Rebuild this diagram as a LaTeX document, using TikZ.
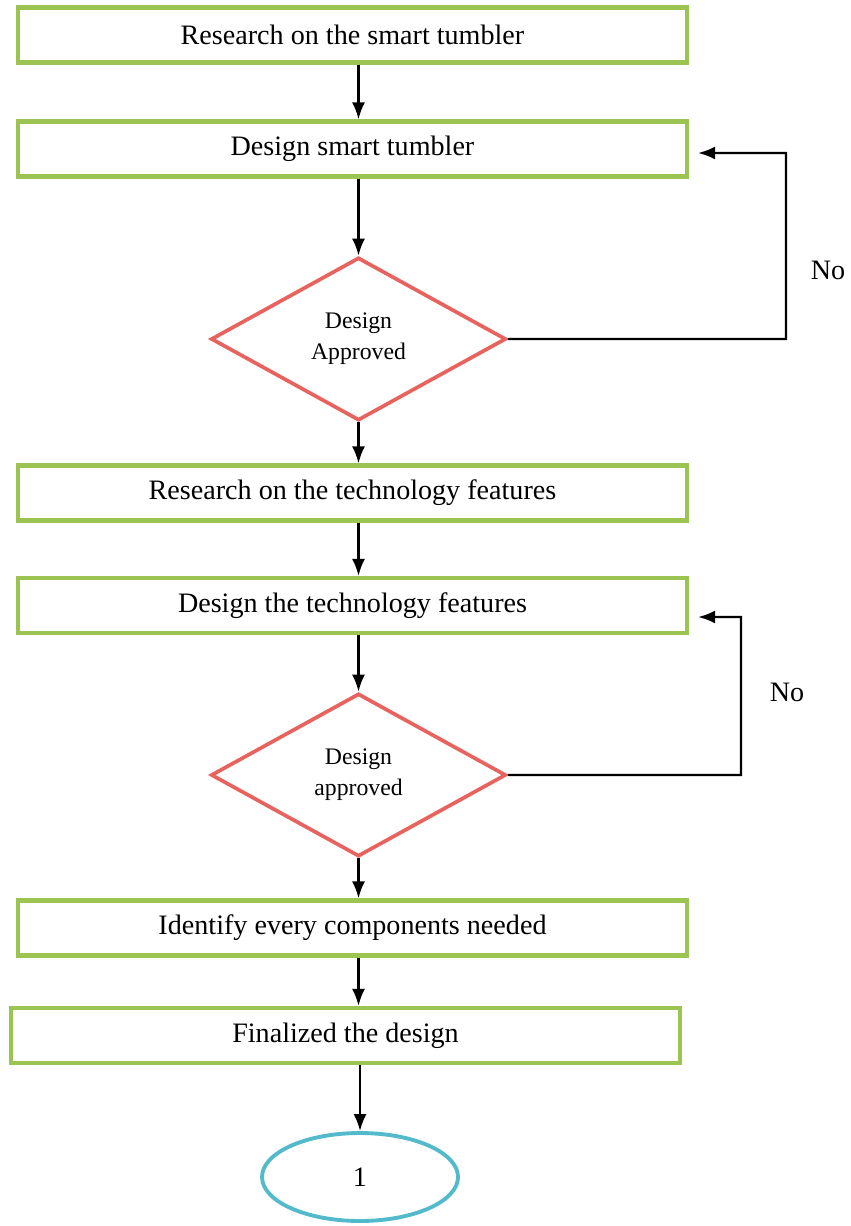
\documentclass[tikz,border=0pt]{standalone}
\usepackage{fontspec}
\setmainfont{Liberation Serif}
\usetikzlibrary{shapes.geometric,arrows.meta}
\definecolor{boxgreen}{RGB}{155,196,82}
\definecolor{diared}{RGB}{232,98,94}
\definecolor{endcyan}{RGB}{82,186,202}

\begin{document}
\begin{tikzpicture}[
    stepbox/.style={draw=boxgreen, line width=2.4pt, minimum width=13.38cm, minimum height=1.1cm,
      font=\fontsize{16}{19}\selectfont},
    check/.style={diamond, draw=diared, line width=2.1pt, minimum width=5.9cm, minimum height=3.26cm,
      align=center, inner sep=0pt, font=\fontsize{13.5}{17.6}\selectfont},
    finish/.style={ellipse, draw=endcyan, line width=2.2pt, minimum width=3.92cm, minimum height=1.76cm,
      font=\fontsize{16}{19}\selectfont},
    arr/.style={line width=1.3pt, -{Latex[length=3.4mm,width=2.6mm]}}]
    \useasboundingbox (0,0) rectangle (17,-24.52);
    \node[stepbox] (research) at (7.05,-0.70) {Research on the smart tumbler};
    \node[stepbox] (design) at (7.05,-2.98) {Design smart tumbler};
    \node[check] (approve) at (7.17,-6.78) {\raisebox{-0.1cm}{Design}\\\raisebox{-0.1cm}{Approved}};
    \node[stepbox] (techresearch) at (7.05,-9.86) {Research on the technology features};
    \node[stepbox] (techdesign) at (7.05,-12.11) {Design the technology features};
    \node[check] (techapprove) at (7.17,-15.50) {\raisebox{-0.1cm}{Design}\\\raisebox{-0.1cm}{approved}};
    \node[stepbox] (components) at (7.05,-18.56) {Identify every components needed};
    \node[stepbox] (final) at (6.91,-20.71) {Finalized the design};
    \node[finish] (one) at (7.2,-23.54) {1};
    \node[font=\fontsize{16}{19}\selectfont] (no1) at (16.56,-5.40) {No};
    \node[font=\fontsize{16}{19}\selectfont] (no2) at (15.74,-13.84) {No};

    \draw[arr] (research.south -| approve) -- (design.north -| approve);
    \draw[arr] (design.south -| approve) -- (approve.north);
    \draw[arr] (approve.south) -- (techresearch.north -| approve);
    \draw[arr] (techresearch.south -| approve) -- (techdesign.north -| approve);
    \draw[arr] (techdesign.south -| approve) -- (techapprove.north);
    \draw[arr] (techapprove.south) -- (components.north -| approve);
    \draw[arr] (components.south -| approve) -- (final.north -| approve);
    \draw[arr] (final.south -| one) -- (one.north);
    \draw[arr] (approve.east) -| (15.72,-3.06) -- ([xshift=0.18cm,yshift=-0.08cm]design.east);
    \draw[arr] (techapprove.east) -| (14.82,-12.34) -- ([xshift=0.18cm,yshift=-0.23cm]techdesign.east);
 \end{tikzpicture}
\end{document}
